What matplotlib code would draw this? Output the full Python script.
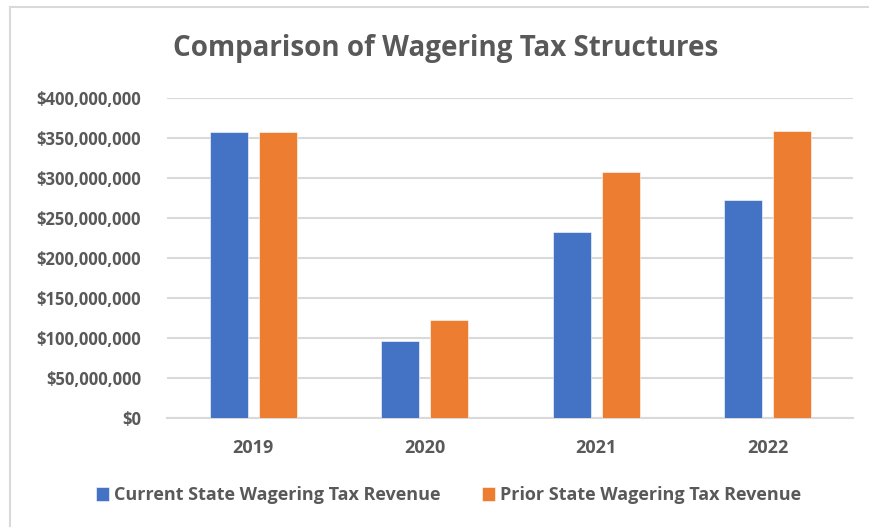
import numpy as np
import matplotlib
matplotlib.use("Agg")
import matplotlib.pyplot as plt
from matplotlib.ticker import FuncFormatter
from matplotlib.lines import Line2D

# data
years = ["2019", "2020", "2021", "2022"]
current_revenue = [357_500_000, 96_000_000, 232_500_000, 272_000_000]
prior_revenue = [357_500_000, 122_000_000, 308_000_000, 359_000_000]
y_ticks = [0, 50_000_000, 100_000_000, 150_000_000, 200_000_000,
           250_000_000, 300_000_000, 350_000_000, 400_000_000]

BLUE = "#4472C4"
ORANGE = "#ED7D31"
TEXT = "#595959"
GRID = "#D9D9D9"

plt.rcParams["font.family"] = ["Open Sans", "DejaVu Sans"]

fig = plt.figure(figsize=(8.7, 5.27), dpi=100)
ax = fig.add_axes([0.1925, 0.2068, 0.7885, 0.6072])

x = np.arange(len(years))
width = 0.222
offset = 0.142
ax.bar(x - offset, current_revenue, width, color=BLUE, edgecolor="white",
       linewidth=0.4, label="Current State Wagering Tax Revenue", zorder=3)
ax.bar(x + offset, prior_revenue, width, color=ORANGE, edgecolor="white",
       linewidth=0.4, label="Prior State Wagering Tax Revenue", zorder=3)

ax.set_xlim(-0.5, len(years) - 0.5)
ax.set_ylim(0, 400_000_000)
ax.set_yticks(y_ticks)
ax.yaxis.set_major_formatter(FuncFormatter(lambda v, _: f"${v:,.0f}"))
ax.set_xticks(x)
ax.set_xticklabels(years)

ax.grid(axis="y", color=GRID, linewidth=1.5, zorder=0)
for side in ["top", "right", "left"]:
    ax.spines[side].set_visible(False)
ax.spines["bottom"].set_color(GRID)
ax.spines["bottom"].set_linewidth(1.5)
ax.tick_params(axis="both", length=0, colors=TEXT)
ax.tick_params(axis="y", pad=19, labelsize=12)
ax.tick_params(axis="x", pad=15, labelsize=13)
for lbl in ax.get_xticklabels() + ax.get_yticklabels():
    lbl.set_fontweight("bold")

fig.text(0.512, 0.908, "Comparison of Wagering Tax Structures", ha="center",
         va="center", fontsize=20, fontweight="bold", color=TEXT)

leg = fig.legend(loc="center", bbox_to_anchor=(0.5155, 0.06), ncol=2,
                 frameon=False, fontsize=13, handlelength=0.75,
                 handleheight=0.75, handletextpad=0.25, columnspacing=2.3)
for t in leg.get_texts():
    t.set_color(TEXT)
    t.set_fontweight("bold")

# chart-area border (left and top edges visible in the crop)
fig.add_artist(Line2D([0.0115, 0.0115], [0, 0.987], transform=fig.transFigure,
                      color="#D9D9D9", linewidth=1.5))
fig.add_artist(Line2D([0.0115, 1.0], [0.987, 0.987], transform=fig.transFigure,
                      color="#D9D9D9", linewidth=1.5))

fig.savefig("out.png", dpi=100, facecolor="white")
